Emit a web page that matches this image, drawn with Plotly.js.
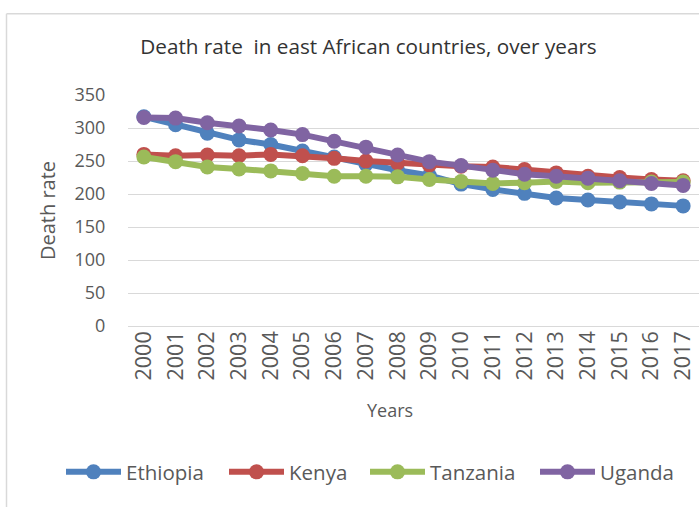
<!DOCTYPE html>
<html>
<head>
<meta charset="utf-8">
<script src="https://cdn.plot.ly/plotly-3.0.1.min.js"></script>
<style>
html,body{margin:0;padding:0;background:#fff;}
#chart{width:699px;height:507px;}
</style>
</head>
<body>
<div id="chart"></div>
<script>
var years = ["2000","2001","2002","2003","2004","2005","2006","2007","2008","2009","2010","2011","2012","2013","2014","2015","2016","2017"];
var ethiopia = [317,305,292,282,275,265,256,245,236,228,215,207,201,194,191,188,185,182];
var kenya = [260,258,259,258,260,258,254,250,247,244,242,241,237,232,227,225,222,220];
var tanzania = [256,249,241,238,235,231,227,227,226,222,219,216,217,219,217,218,218,218];
var uganda = [316,315,308,303,297,290,280,271,259,249,243,236,230,227,224,220,216,213];

var seriesNames = ["Ethiopia","Kenya","Tanzania","Uganda"];
var seriesData = [ethiopia, kenya, tanzania, uganda];
var colors = ["#4F81BD","#C0504D","#9BBB59","#8064A2"];
var legendIds = ["legend","legend2","legend3","legend4"];
var legendLeftPx = [66, 229, 370, 540];

var traces = seriesNames.map(function(n, i){
  return {
    type: "scatter",
    mode: "lines+markers",
    name: n,
    legend: legendIds[i],
    x: years,
    y: seriesData[i],
    line: {color: colors[i], width: 6},
    marker: {color: colors[i], size: 15}
  };
});

var L = 128, R = 0, T = 95, B = 180.5;
var W = 699, H = 507;
var pw = W - L - R, ph = H - T - B;
function px2x(p){ return (p - L) / pw; }
function py2y(p){ return (H - B - p) / ph; }

var FONT = "'Open Sans', 'Noto Sans', sans-serif";

var layout = {
  width: W, height: H,
  margin: {l: L, r: R, t: T, b: B, pad: 0},
  paper_bgcolor: "#ffffff",
  plot_bgcolor: "#ffffff",
  font: {family: FONT, color: "#595959"},
  showlegend: true,
  title: {
    text: "Death rate  in east African countries, over years",
    font: {family: FONT, size: 20.7, color: "#333333"},
    x: 368.5 / W, xanchor: "center", xref: "container",
    y: 1 - 47/H, yanchor: "middle", yref: "container"
  },
  xaxis: {
    type: "category",
    range: [-0.5, 17.5],
    tickangle: -90,
    tickfont: {family: FONT, size: 21.5, color: "#595959"},
    showgrid: false,
    showline: false,
    zeroline: false,
    ticks: "",
    ticklen: 0
  },
  yaxis: {
    range: [0, 350],
    dtick: 50,
    tick0: 0,
    tickfont: {family: FONT, size: 18, color: "#595959"},
    showgrid: true,
    gridcolor: "#d9d9d9",
    gridwidth: 1,
    zeroline: true,
    zerolinecolor: "#d9d9d9",
    zerolinewidth: 1,
    showline: false,
    ticks: "outside",
    ticklen: 18,
    tickcolor: "rgba(0,0,0,0)",
    title: {text: "Death rate", font: {family: FONT, size: 20, color: "#595959"}, standoff: 13}
  },
  annotations: [
    {text: "Years", xref: "paper", yref: "paper", x: px2x(389.5), y: py2y(411), xanchor: "center", yanchor: "middle",
     showarrow: false, font: {family: FONT, size: 18, color: "#595959"}}
  ],
  shapes: [
    {type: "line", xref: "paper", yref: "paper", x0: px2x(6.5), x1: px2x(6.5), y0: py2y(13.5), y1: py2y(520), line: {color: "#d9d9d9", width: 1.5}},
    {type: "line", xref: "paper", yref: "paper", x0: px2x(6.5), x1: px2x(720), y0: py2y(13.5), y1: py2y(13.5), line: {color: "#d9d9d9", width: 1.5}}
  ]
};

legendIds.forEach(function(id, i){
  layout[id] = {
    orientation: "h",
    x: (legendLeftPx[i] - 5) / W, xref: "container", xanchor: "left",
    y: 1 - 472/H, yref: "container", yanchor: "middle",
    font: {family: FONT, size: 20.5, color: "#595959"},
    itemwidth: 55,
    bgcolor: "rgba(0,0,0,0)",
    borderwidth: 0
  };
});

Plotly.newPlot("chart", traces, layout, {displayModeBar: false, staticPlot: true});
</script>
</body>
</html>
